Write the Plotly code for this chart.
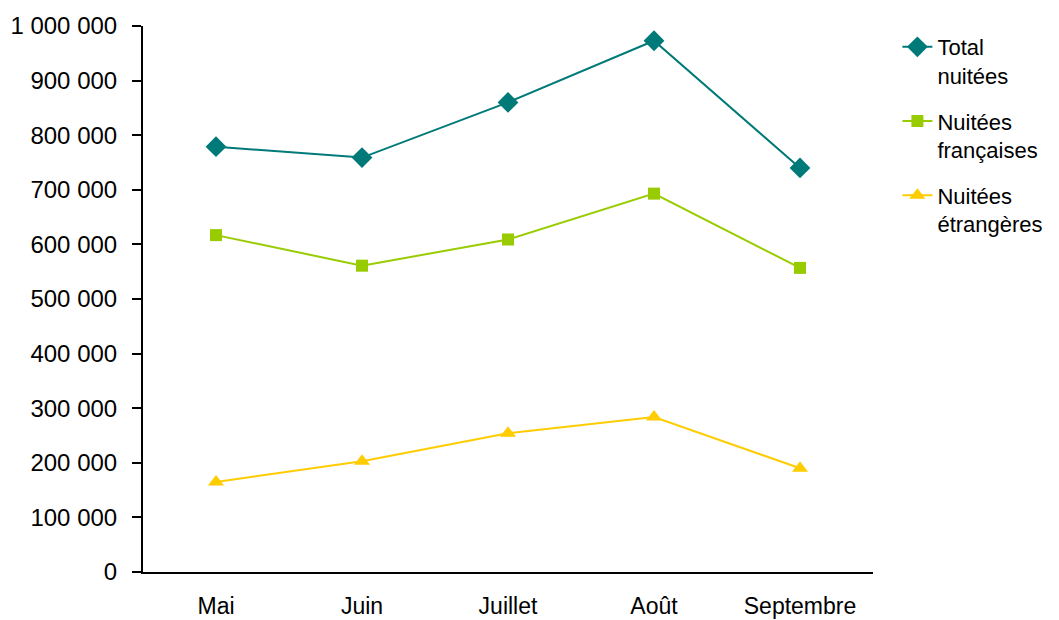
import plotly.graph_objects as go

mois = ['Mai', 'Juin', 'Juillet', 'Août', 'Septembre']
total_nuitees = [779000, 759000, 860000, 973000, 740000]
nuitees_francaises = [617000, 561000, 609000, 693000, 557000]
nuitees_etrangeres = [165000, 203000, 254000, 284000, 190000]

font = 'Liberation Sans, Arial, sans-serif'

fig = go.Figure()
fig.add_trace(go.Scatter(name='Total<br>nuitées', x=mois, y=total_nuitees, mode='lines+markers',
                         legendgroup='a',
                         line=dict(color='#007A78', width=2),
                         marker=dict(symbol='diamond', size=16, color='#007A78')))
fig.add_trace(go.Scatter(name='Nuitées<br>françaises', x=mois, y=nuitees_francaises, mode='lines+markers',
                         legendgroup='b',
                         line=dict(color='#99CC00', width=2),
                         marker=dict(symbol='square', size=12, color='#99CC00')))
fig.add_trace(go.Scatter(name='Nuitées<br>étrangères', x=mois, y=nuitees_etrangeres, mode='lines+markers',
                         legendgroup='c',
                         line=dict(color='#FFCC00', width=2),
                         marker=dict(symbol='triangle-up', size=14, color='#FFCC00')))

# the page has an 8px body margin, so the figure is shrunk and shifted to match
fig.update_layout(
    width=1051, height=612,
    margin=dict(l=135, r=185, t=18, b=48),
    paper_bgcolor='white', plot_bgcolor='white',
    font=dict(family=font, size=22, color='black'),
    separators=', ',
    showlegend=True,
    legend=dict(x=1.032, y=1.0, xanchor='left', yanchor='top', valign='top',
                tracegroupgap=14, font=dict(size=22), bgcolor='rgba(0,0,0,0)'),
)
fig.update_xaxes(range=[-0.5, 4.5], showline=True, linecolor='black', linewidth=2, showgrid=False,
                 ticks='outside', ticklen=12, tickcolor='rgba(0,0,0,0)',
                 tickfont=dict(size=23), automargin=False)
fig.update_yaxes(range=[0, 1000000], dtick=100000, tickformat=',d', showgrid=False,
                 showline=True, linecolor='black', linewidth=2, zeroline=False,
                 ticks='outside', ticklen=9, tickwidth=2, tickcolor='black',
                 tickfont=dict(size=24), ticklabelstandoff=10, automargin=False)
fig.write_html("out.html")
